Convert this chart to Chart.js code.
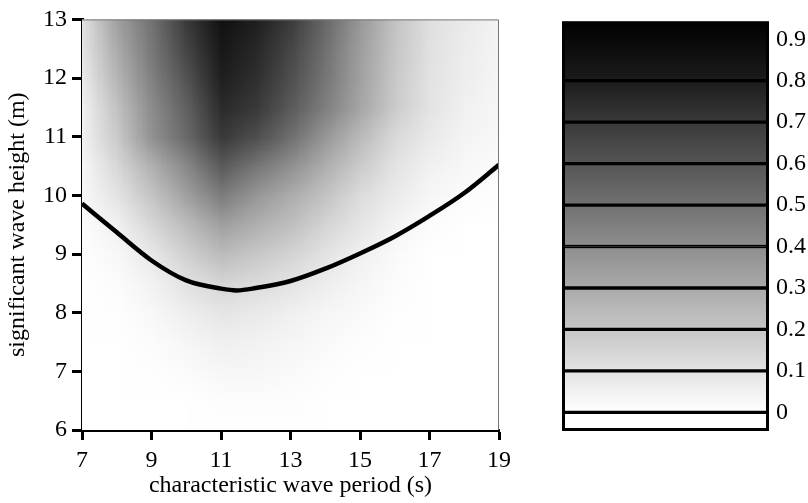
<!DOCTYPE html>
<html><head><meta charset="utf-8">
<script src="https://cdn.jsdelivr.net/npm/chart.js@4.4.1/dist/chart.umd.min.js"></script>
<style>
html,body{margin:0;padding:0;background:#fff;}
#wrap{position:relative;width:808px;height:503px;overflow:hidden;}
#main{position:absolute;left:0;top:0;}
#cb{position:absolute;left:540px;top:0;}
</style></head><body>
<div id="wrap">
<canvas id="main" width="540" height="503"></canvas>
<canvas id="cb" width="268" height="503"></canvas>
</div>
<script>
// ---- data ----
const periods = [7, 8, 9, 10, 11, 12, 13, 14, 15, 16, 17, 18, 19];
const heights = [13, 12.5, 12, 11.5, 11, 10.5, 10, 9.5, 9, 8.5, 8, 7.5, 7, 6.5, 6];
// probability grid: rows follow heights (top to bottom), columns follow periods
const probability = [
  [0.11, 0.335, 0.50, 0.70, 0.84, 0.79, 0.69, 0.53, 0.36, 0.21, 0.11, 0.07, 0.04],
  [0.095, 0.30, 0.48, 0.66, 0.815, 0.76, 0.65, 0.50, 0.34, 0.20, 0.105, 0.065, 0.04],
  [0.075, 0.26, 0.45, 0.61, 0.79, 0.73, 0.62, 0.48, 0.33, 0.19, 0.10, 0.06, 0.035],
  [0.05, 0.22, 0.41, 0.56, 0.75, 0.695, 0.58, 0.45, 0.31, 0.18, 0.095, 0.05, 0.03],
  [0.05, 0.19, 0.39, 0.53, 0.695, 0.62, 0.505, 0.365, 0.24, 0.13, 0.075, 0.04, 0.025],
  [0.03, 0.14, 0.28, 0.42, 0.58, 0.48, 0.39, 0.28, 0.18, 0.095, 0.05, 0.025, 0.01],
  [0.025, 0.095, 0.21, 0.335, 0.46, 0.365, 0.29, 0.21, 0.12, 0.07, 0.03, 0.01, 0.004],
  [0.01, 0.05, 0.14, 0.236, 0.335, 0.28, 0.222, 0.15, 0.09, 0.04, 0.01, 0, 0],
  [0.004, 0.025, 0.08, 0.166, 0.236, 0.194, 0.152, 0.095, 0.05, 0.018, 0, 0, 0],
  [0, 0.01, 0.046, 0.102, 0.145, 0.124, 0.095, 0.06, 0.032, 0.01, 0, 0, 0],
  [0, 0.004, 0.025, 0.06, 0.088, 0.074, 0.053, 0.032, 0.018, 0.004, 0, 0, 0],
  [0, 0, 0.01, 0.032, 0.053, 0.046, 0.032, 0.018, 0.007, 0, 0, 0, 0],
  [0, 0, 0.004, 0.014, 0.028, 0.028, 0.018, 0.007, 0, 0, 0, 0, 0],
  [0, 0, 0, 0, 0.007, 0.007, 0.007, 0, 0, 0, 0, 0, 0],
  [0, 0, 0, 0, 0, 0, 0, 0, 0, 0, 0, 0, 0]
];
// contour line
const curvePeriod = [7, 8, 9, 10, 11, 11.45, 12, 13, 14, 15, 16, 17, 18, 19];
const curveHeight = [9.86, 9.37, 8.89, 8.55, 8.41, 8.38, 8.42, 8.54, 8.75, 9.01, 9.30, 9.65, 10.04, 10.52];
const xTicks = [7, 9, 11, 13, 15, 17, 19];
const yTicks = [6, 7, 8, 9, 10, 11, 12, 13];
const cbTicks = [0, 0.1, 0.2, 0.3, 0.4, 0.5, 0.6, 0.7, 0.8, 0.9];
const cbBands = [[-0.045, 0], [0, 0.1], [0.1, 0.2], [0.2, 0.3], [0.3, 0.4], [0.4, 0.5], [0.5, 0.6], [0.6, 0.7], [0.7, 0.8], [0.8, 0.943]];
const cbRange = [-0.045, 0.943];
const vmax = 0.9;

// ---- helpers ----
function grayOf(v) {
  const t = Math.min(1, Math.max(0, v) / vmax);
  return Math.round(255 * (1 - t));
}
function grayCss(v) { const g = grayOf(v); return `rgb(${g},${g},${g})`; }

Chart.defaults.font.family = "'Liberation Serif', 'Times New Roman', serif";
Chart.defaults.font.size = 24;
Chart.defaults.font.lineHeight = 1.2;
Chart.defaults.color = '#000';

const heatmapPlugin = {
  id: 'heatmap',
  beforeDatasetsDraw(chart) {
    const { ctx, chartArea: a, scales: { x, y } } = chart;
    const cols = periods.length, rows = heights.length;
    const off = document.createElement('canvas');
    off.width = cols; off.height = rows;
    const octx = off.getContext('2d');
    const img = octx.createImageData(cols, rows);
    for (let r = 0; r < rows; r++) {
      for (let c = 0; c < cols; c++) {
        const g = grayOf(probability[r][c]);
        const i = (r * cols + c) * 4;
        img.data[i] = g; img.data[i + 1] = g; img.data[i + 2] = g; img.data[i + 3] = 255;
      }
    }
    octx.putImageData(img, 0, 0);
    const dx = (periods[1] - periods[0]) / 2;
    const dy = (heights[0] - heights[1]) / 2;
    const x0 = x.getPixelForValue(periods[0] - dx);
    const x1 = x.getPixelForValue(periods[cols - 1] + dx);
    const y0 = y.getPixelForValue(heights[0] + dy);
    const y1 = y.getPixelForValue(heights[rows - 1] - dy);
    ctx.save();
    ctx.beginPath();
    ctx.rect(a.left, a.top, a.right - a.left, a.bottom - a.top);
    ctx.clip();
    ctx.imageSmoothingEnabled = true;
    ctx.imageSmoothingQuality = 'low';
    ctx.drawImage(off, x0, y0, x1 - x0, y1 - y0);
    ctx.restore();
  },
  afterDraw(chart) {
    const { ctx, chartArea: a } = chart;
    ctx.save();
    ctx.strokeStyle = '#777';
    ctx.lineWidth = 1;
    ctx.beginPath();
    ctx.moveTo(a.left, a.top + 0.5);
    ctx.lineTo(a.right - 0.5, a.top + 0.5);
    ctx.lineTo(a.right - 0.5, a.bottom);
    ctx.stroke();
    ctx.restore();
  }
};

new Chart(document.getElementById('main'), {
  type: 'line',
  data: {
    datasets: [{
      data: curvePeriod.map((p, i) => ({ x: p, y: curveHeight[i] })),
      borderColor: '#000',
      borderWidth: 4.5,
      pointRadius: 0,
      fill: false,
      cubicInterpolationMode: 'monotone'
    }]
  },
  options: {
    responsive: false,
    animation: false,
    layout: { padding: { top: 14, right: 41, left: 0, bottom: 0 } },
    plugins: { legend: { display: false }, tooltip: { enabled: false } },
    scales: {
      x: {
        type: 'linear', min: 7, max: 19,
        afterBuildTicks(s) { s.ticks = xTicks.map(v => ({ value: v })); },
        afterFit(s) { s.height = 73; },
        grid: { drawOnChartArea: false, drawTicks: true, tickLength: 10, tickWidth: 3, tickColor: '#000' },
        border: { display: true, width: 3, color: '#000' },
        ticks: { padding: 6, maxRotation: 0, autoSkip: false },
        title: { display: true, text: 'characteristic wave period (s)', padding: { top: 0, bottom: 3 } }
      },
      y: {
        type: 'linear', min: 6, max: 13,
        afterBuildTicks(s) { s.ticks = yTicks.map(v => ({ value: v })); },
        afterFit(s) { s.width = 82; },
        grid: { drawOnChartArea: false, drawTicks: true, tickLength: 10, tickWidth: 3, tickColor: '#000' },
        border: { display: true, width: 3, color: '#000' },
        ticks: { padding: 5, autoSkip: false },
        title: { display: true, text: 'significant wave height (m)', padding: { top: 3, bottom: 0 } }
      }
    }
  },
  plugins: [heatmapPlugin]
});

const cbFramePlugin = {
  id: 'cbframe',
  afterDatasetsDraw(chart) {
    const { ctx, chartArea: a } = chart;
    ctx.save();
    ctx.strokeStyle = '#000';
    ctx.lineWidth = 3;
    ctx.strokeRect(a.left + 1.5, a.top + 1.5, a.right - a.left - 3, a.bottom - a.top - 3);
    ctx.restore();
  }
};

new Chart(document.getElementById('cb'), {
  type: 'bar',
  data: {
    labels: [''],
    datasets: cbBands.map((b, i) => ({
      data: [b],
      backgroundColor(c) {
        const chart = c.chart;
        if (!chart.chartArea) return grayCss(b[0]);
        const ys = chart.scales.y;
        const top = ys.getPixelForValue(b[1]);
        const bot = ys.getPixelForValue(b[0]);
        const g = chart.ctx.createLinearGradient(0, top, 0, bot);
        g.addColorStop(0, grayCss(b[1]));
        g.addColorStop(1, grayCss(b[0]));
        return g;
      },
      borderColor: '#000',
      borderWidth: { top: 2, bottom: 2, left: 3, right: 3 },
      borderSkipped: false,
      barPercentage: 1,
      categoryPercentage: 1
    }))
  },
  options: {
    responsive: false,
    animation: false,
    layout: { padding: { top: 17, bottom: 72, left: 22, right: 0 } },
    plugins: { legend: { display: false }, tooltip: { enabled: false } },
    scales: {
      x: { display: false, stacked: true },
      y: {
        position: 'right', stacked: false,
        min: cbRange[0], max: cbRange[1],
        afterBuildTicks(s) { s.ticks = cbTicks.map(v => ({ value: v })); },
        afterFit(s) { s.width = 39; },
        grid: { display: false, drawTicks: false },
        border: { display: false },
        ticks: { padding: 7, autoSkip: false, callback: v => String(Math.round(v * 10) / 10) }
      }
    }
  },
  plugins: [cbFramePlugin]
});
</script>
</body></html>
